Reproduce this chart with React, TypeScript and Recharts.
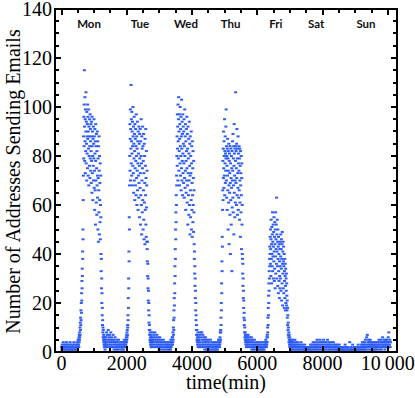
import { Scatter, ScatterChart, XAxis, YAxis } from "recharts"

const QUIET_STEP = 10 // minutes between readings outside working hours
const PEAK_STEP = 5 // minutes between readings around the daily peaks

// night stretches and the weekend, one reading every 10 min
const preMonStart = 0
const preMon = [
  2, 1, 3, 0, 2, 4, 1, 2, 3, 1, 0, 2, 3, 1, 2, 4, 0, 1, 3, 2, 1, 2, 0, 3, 1, 2, 4, 1, 0, 2, 3, 1, 2, 1, 3, 0, 2,
  1, 4, 2, 1, 3, 0, 2, 1, 3, 2, 1, 4, 2, 3, 5,
]
const monNightStart = 1360
const monNight = [
  6, 3, 8, 4, 7, 2, 5, 9, 3, 6, 4, 7, 2, 5, 3, 8, 4, 6, 2, 5, 3, 4, 7, 2, 5, 1, 4, 3, 6, 2, 4, 1, 3, 5, 2, 4, 1,
  3, 2, 5, 0, 3, 2, 4, 1, 3, 2, 0, 4, 2, 1, 3, 2, 4, 1, 3, 5, 2, 4, 3,
]
const tueNightStart = 2780
const tueNight = [
  5, 8, 3, 6, 4, 7, 2, 5, 8, 3, 6, 4, 2, 5, 7, 3, 4, 6, 2, 5, 3, 1, 4, 6, 2, 3, 5, 1, 4, 2, 3, 0, 4, 2, 5, 1, 3,
  2, 4, 0, 2, 3, 1, 4, 2, 3, 0, 2, 4, 1, 3, 2, 1, 4, 2, 3, 1, 5, 2, 4, 3, 6,
]
const wedNightStart = 4200
const wedNight = [
  6, 3, 5, 2, 7, 4, 8, 3, 6, 2, 8, 5, 3, 7, 4, 2, 6, 3, 5, 1, 4, 6, 2, 3, 5, 1, 4, 2, 3, 5, 0, 2, 4, 1, 3, 2, 5,
  1, 3, 0, 2, 4, 1, 3, 2, 0, 4, 1, 2, 3, 1, 4, 2, 0, 3, 1, 2, 4, 1, 3, 2, 5, 3, 4,
]
const thuNightStart = 5700
const thuNight = [
  6, 4, 7, 3, 5, 2, 6, 4, 3, 5, 2, 4, 6, 1, 3, 5, 2, 4, 1, 3, 2, 5, 0, 3, 1, 4, 2, 3, 0, 2, 4, 1, 3, 2, 0, 3, 1,
  4, 2, 1, 3, 0, 2, 4, 1, 2, 3, 1, 0, 2, 4, 1, 3, 2, 4, 3, 5, 4,
]
const weekendStart = 7070
const weekend = [
  4, 2, 5, 3, 1, 4, 2, 3, 5, 1, 3, 2, 4, 1, 3, 0, 2, 4, 1, 2, 3, 1, 2, 0, 3, 1, 2, 4, 0, 2, 1, 3, 0, 2, 1, 0, 2,
  1, 3, 0, 1, 2, 0, 1, 0, 2, 1, 0, 1, 2, 0, 1, 2, 0, 1, 0, 3, 1, 0, 2, 1, 3, 0, 2, 4, 1, 2, 0, 3, 1, 2, 4, 1, 3,
  0, 2, 5, 1, 3, 2, 4, 1, 2, 3, 0, 5, 2, 1, 4, 2, 3, 1, 4, 2, 0, 3, 5, 1, 2, 4, 1, 3, 2, 0, 4, 2, 1, 3, 5, 2, 0,
  3, 1, 4, 2, 1, 3, 0, 2, 4, 1, 2, 3, 0, 2, 1, 4, 2, 0, 3, 1, 2, 0, 3, 1, 0, 2, 1, 3, 0, 2, 1, 0, 1, 3, 0, 1, 2,
  0, 1, 0, 1, 0, 2, 1, 0, 1, 0, 2, 0, 1, 0, 3, 1, 0, 1, 2, 0, 1, 0, 0, 2, 1, 0, 1, 0, 4, 1, 0, 1, 2, 0, 1, 0, 1,
  3, 0, 1, 0, 2, 1, 0, 2, 0, 1, 0, 1, 2, 0, 1, 0, 1, 3, 0, 2, 1, 0, 2, 1, 0, 2, 1, 3, 0, 2, 4, 1, 3, 2, 1, 3, 2,
  4, 1, 5, 2, 3, 1, 6, 2, 7, 3, 4, 2, 5, 1, 3, 4, 2, 5, 3, 1, 4, 2, 3, 0, 2, 4, 1, 3, 2, 4, 1, 3, 0, 2, 3, 1, 4,
  2, 1, 3, 2, 4, 0, 3, 5, 2, 1, 4, 2, 3, 5, 1, 4, 2, 3, 6, 2, 4, 3, 5, 2, 4, 1, 3, 5, 2, 4, 3, 5, 2, 4, 3, 6, 2,
  8, 4, 3, 5, 2, 4,
]

// working-day peaks, one reading every 5 min
const monPeakStart = 520
const monPeak = [
  3, 5, 2, 6, 4, 7, 5, 8, 6, 10, 7, 12, 9, 14, 11, 17, 13, 20, 16, 24, 21, 29, 26, 34, 31, 41, 38, 50, 46, 62, 72,
  88, 79, 96, 84, 101, 115, 92, 78, 104, 86, 95, 73, 99, 82, 90, 106, 77, 94, 85, 70, 98, 88, 81, 93, 75, 101, 87,
  96, 72, 90, 83, 99, 68, 92, 80, 88, 76, 95, 84, 71, 97, 79, 91, 86, 74, 93, 82, 69, 94, 78, 88, 65, 96, 84, 73,
  90, 80, 62, 87, 76, 92, 70, 85, 79, 95, 67, 88, 74, 58, 91, 81, 66, 86, 52, 78, 93, 70, 84, 61, 89, 75, 56, 82,
  68, 90, 72, 63, 86, 50, 79, 71, 45, 84, 66, 57, 88, 74, 48, 80, 62, 69, 53, 77, 46, 60, 72, 55, 40, 33, 38, 26,
  30, 20, 24, 15, 18, 11, 13, 8, 10, 6, 9, 5, 7, 4, 6, 3, 5, 2, 4, 6, 3, 1, 5, 2, 4, 3,
]
const tuePeakStart = 1960
const tuePeak = [
  2, 4, 3, 5, 2, 6, 4, 7, 5, 8, 6, 9, 7, 11, 10, 15, 13, 22, 18, 30, 26, 41, 37, 55, 50, 68, 80, 93, 74, 87, 99,
  70, 91, 83, 109, 77, 95, 86, 72, 98, 81, 90, 68, 94, 84, 76, 100, 88, 73, 92, 65, 85, 79, 96, 70, 89, 82, 62,
  93, 75, 87, 68, 91, 78, 84, 64, 97, 80, 71, 88, 60, 83, 74, 94, 66, 86, 77, 58, 90, 72, 81, 63, 92, 69, 85, 76,
  55, 89, 79, 67, 91, 73, 52, 86, 64, 80, 95, 60, 77, 48, 88, 70, 83, 57, 75, 92, 62, 84, 50, 78, 66, 89, 54, 73,
  46, 85, 61, 80, 69, 44, 87, 58, 76, 64, 91, 52, 71, 47, 82, 59, 68, 45, 74, 42, 37, 45, 31, 36, 26, 30, 21, 25,
  17, 20, 12, 15, 9, 11, 7, 9, 5, 8, 4, 6, 3, 5, 7, 2, 4, 6, 3, 5, 2, 4,
]
const wedPeakStart = 3400
const wedPeak = [
  3, 6, 4, 8, 5, 10, 7, 13, 9, 17, 14, 22, 19, 28, 24, 35, 31, 42, 38, 50, 46, 57, 53, 64, 60, 72, 68, 80, 88, 76,
  97, 83, 92, 70, 101, 86, 79, 95, 104, 74, 90, 82, 97, 68, 87, 93, 77, 100, 84, 72, 91, 80, 96, 66, 88, 75, 103,
  83, 70, 94, 78, 89, 64, 97, 81, 73, 92, 85, 69, 90, 77, 95, 63, 84, 71, 99, 80, 67, 88, 74, 93, 58, 86, 78, 65,
  91, 82, 70, 96, 75, 61, 89, 68, 83, 52, 92, 73, 79, 64, 87, 56, 81, 70, 94, 60, 76, 85, 48, 72, 88, 66, 55, 80,
  73, 62, 90, 50, 77, 84, 58, 69, 47, 86, 64, 75, 53, 82, 60, 71, 49, 78, 57, 66, 44, 38, 41, 32, 35, 27, 30, 22,
  25, 17, 20, 13, 15, 9, 11, 7, 9, 5, 7, 4, 6, 3, 5, 8, 4, 2, 5,
]
const thuPeakStart = 4840
const thuPeak = [
  2, 5, 3, 6, 4, 8, 5, 9, 8, 14, 11, 20, 17, 28, 24, 37, 33, 47, 43, 58, 66, 78, 62, 83, 71, 90, 75, 67, 86, 80,
  72, 95, 64, 82, 77, 88, 69, 81, 74, 92, 79, 99, 70, 84, 63, 80, 76, 58, 83, 72, 87, 66, 79, 50, 82, 74, 61, 85,
  68, 44, 78, 81, 65, 73, 56, 84, 69, 40, 77, 62, 83, 71, 52, 80, 67, 75, 33, 82, 59, 70, 86, 74, 63, 89, 57, 79,
  68, 84, 48, 76, 93, 65, 81, 72, 55, 83, 70, 61, 78, 106, 84, 69, 82, 75, 60, 85, 71, 91, 64, 79, 56, 83, 73, 67,
  88, 58, 77, 81, 63, 74, 84, 66, 79, 54, 83, 70, 61, 76, 47, 82, 68, 73, 57, 80, 64, 42, 71, 77, 52, 60, 40, 38,
  32, 36, 27, 30, 22, 25, 18, 21, 14, 16, 11, 13, 8, 10, 6, 8, 5, 7, 4, 6, 3, 5, 7, 2, 4, 6, 3, 5, 2, 4,
]
const friPeakStart = 6280
const friPeak = [
  2, 4, 3, 6, 4, 7, 6, 10, 8, 14, 11, 18, 15, 23, 20, 28, 25, 33, 30, 38, 35, 43, 40, 47, 36, 50, 42, 31, 46, 54,
  38, 44, 28, 51, 40, 35, 48, 57, 33, 45, 39, 52, 30, 43, 49, 37, 55, 41, 29, 47, 34, 53, 44, 26, 50, 39, 57, 32,
  46, 42, 52, 36, 63, 30, 48, 41, 54, 35, 45, 27, 50, 38, 43, 24, 47, 33, 40, 29, 44, 22, 37, 31, 42, 26, 35, 45,
  30, 39, 48, 25, 42, 34, 46, 21, 38, 44, 28, 49, 36, 19, 41, 32, 45, 26, 37, 43, 24, 35, 40, 18, 33, 29, 38, 22,
  31, 36, 17, 27, 34, 20, 30, 25, 32, 19, 28, 23, 17, 21, 14, 18, 11, 15, 9, 12, 7, 10, 6, 8, 4, 7, 5, 3, 6, 2, 4,
  5, 3, 1, 4, 2, 5, 3, 1, 4, 2, 3, 1,
]

const dayNames = ["Mon", "Tue", "Wed", "Thu", "Fri", "Sat", "Sun"]
const dayLabelTimes = [843, 2405, 3815, 5180, 6570, 7800, 9330]
const DAY_LABEL_Y = 134

const xTicks = [
  0, 500, 1000, 1500, 2000, 2500, 3000, 3500, 4000, 4500, 5000, 5500, 6000, 6500, 7000, 7500, 8000, 8500, 9000,
  9500, 10000,
]
const xLabels = [0, 2000, 4000, 6000, 8000, 10000]
const yTicks = [
  0, 5, 10, 15, 20, 25, 30, 35, 40, 45, 50, 55, 60, 65, 70, 75, 80, 85, 90, 95, 100, 105, 110, 115, 120, 125, 130,
  135, 140,
]
const yLabels = [0, 20, 40, 60, 80, 100, 120, 140]

const X_DOMAIN = [-200, 10280]
const Y_DOMAIN = [0, 140]

const segments: [number, number, number[]][] = [
  [preMonStart, QUIET_STEP, preMon],
  [monPeakStart, PEAK_STEP, monPeak],
  [monNightStart, QUIET_STEP, monNight],
  [tuePeakStart, PEAK_STEP, tuePeak],
  [tueNightStart, QUIET_STEP, tueNight],
  [wedPeakStart, PEAK_STEP, wedPeak],
  [wedNightStart, QUIET_STEP, wedNight],
  [thuPeakStart, PEAK_STEP, thuPeak],
  [thuNightStart, QUIET_STEP, thuNight],
  [friPeakStart, PEAK_STEP, friPeak],
  [weekendStart, QUIET_STEP, weekend],
]

const points = segments.flatMap(([start, step, vals]) => vals.map((v, i) => ({ t: start + i * step, v })))
const dayLabels = dayNames.map((name, i) => ({ t: dayLabelTimes[i], v: DAY_LABEL_Y, name }))

// frame corner and tick positions, placed through the chart's own scales
const frameCorner = [{ t: X_DOMAIN[0], v: Y_DOMAIN[1] }]
const xTickMarks = xTicks.map((t) => ({ t, v: Y_DOMAIN[0], major: xLabels.includes(t) }))
const yTickMarks = yTicks.map((v) => ({ t: X_DOMAIN[0], v, major: yLabels.includes(v) }))

const SERIF = "'Liberation Serif', 'Times New Roman', serif"
const DOT = "#2d5cf6"
const LW = 2 // frame and tick thickness

const W = 415
const H = 398
const M = { top: 9, right: 18, bottom: 0, left: 0 }
const X_AXIS_H = 46
const Y_AXIS_W = 55

const plotTop = M.top
const plotBottom = H - M.bottom - X_AXIS_H
const plotLeft = M.left + Y_AXIS_W
const plotRight = W - M.right

// short horizontal dashes, like the integer rows in the original
const Dot = (p: any) => <rect x={p.cx - 1.5} y={p.cy - 1} width={3} height={2} fill={DOT} />

const DayLabel = (p: any) => (
  <text
    x={p.cx}
    y={p.cy + 4}
    textAnchor="middle"
    fontFamily="Lato, 'Open Sans', sans-serif"
    fontWeight={700}
    fontSize={11.5}
    fill="#111"
  >
    {p.payload.name}
  </text>
)

const FrameShape = (p: any) => {
  const l = Math.round(p.cx) - 1
  const t = Math.round(p.cy) - 1
  const r = plotRight - 1
  const b = plotBottom - 1
  return (
    <g>
      <rect x={l} y={t} width={r - l + LW} height={LW} fill="#000" />
      <rect x={l} y={b} width={r - l + LW} height={LW} fill="#000" />
      <rect x={l} y={t} width={LW} height={b - t + LW} fill="#000" />
      <rect x={r} y={t} width={LW} height={b - t + LW} fill="#000" />
    </g>
  )
}

// inward tick on the bottom edge and the matching one on the top edge
const XTickMark = (p: any) => {
  const x = Math.round(p.cx) - 1
  const len = p.payload.major ? 6 : 4
  const b = Math.round(p.cy)
  return (
    <g>
      <rect x={x} y={b - len} width={LW} height={len} fill="#000" />
      <rect x={x} y={plotTop} width={LW} height={len} fill="#000" />
    </g>
  )
}

// inward tick on the left edge and the matching one on the right edge
const YTickMark = (p: any) => {
  const y = Math.round(p.cy) - 1
  const len = p.payload.major ? 6 : 4
  const l = Math.round(p.cx)
  return (
    <g>
      <rect x={l} y={y} width={len} height={LW} fill="#000" />
      <rect x={plotRight - len} y={y} width={len} height={LW} fill="#000" />
    </g>
  )
}

const XTickLabel = ({ x, payload }: any) =>
  xLabels.includes(payload.value) ? (
    <text x={Number(x)} y={plotBottom + 18} textAnchor="middle" fontFamily={SERIF} fontSize={20} fill="#000">
      {payload.value === 10000 ? "10\u2009000" : payload.value}
    </text>
  ) : (
    <g />
  )

const YTickLabel = ({ y, payload }: any) =>
  yLabels.includes(payload.value) ? (
    <text x={plotLeft - 3} y={Number(y) + 6.5} textAnchor="end" fontFamily={SERIF} fontSize={20} fill="#000">
      {payload.value}
    </text>
  ) : (
    <g />
  )

const XTitle = () => (
  <text x={(plotLeft + plotRight) / 2} y={plotBottom + 37} textAnchor="middle" fontFamily={SERIF} fontSize={20} fill="#000">
    time(min)
  </text>
)

const YTitle = () => {
  const cx = 19.5
  const cy = (plotTop + plotBottom) / 2 + 1
  return (
    <text x={cx} y={cy} transform={`rotate(-90 ${cx} ${cy})`} textAnchor="middle" fontFamily={SERIF} fontSize={20} fill="#000">
      Number of Addresses Sending Emails
    </text>
  )
}

export default function App() {
  return (
    <div style={{ position: "absolute", left: 0, top: 0, width: W, height: H, background: "#fff" }}>
      <ScatterChart width={W} height={H} margin={M}>
        <XAxis
          dataKey="t"
          type="number"
          domain={X_DOMAIN}
          ticks={xTicks}
          interval={0}
          height={X_AXIS_H}
          axisLine={false}
          tickLine={false}
          tick={XTickLabel}
          label={XTitle}
        />
        <YAxis
          dataKey="v"
          type="number"
          domain={Y_DOMAIN}
          ticks={yTicks}
          interval={0}
          width={Y_AXIS_W}
          axisLine={false}
          tickLine={false}
          tick={YTickLabel}
          label={YTitle}
        />
        <Scatter data={points} shape={Dot} isAnimationActive={false} />
        <Scatter data={frameCorner} shape={FrameShape} isAnimationActive={false} />
        <Scatter data={xTickMarks} shape={XTickMark} isAnimationActive={false} />
        <Scatter data={yTickMarks} shape={YTickMark} isAnimationActive={false} />
        <Scatter data={dayLabels} shape={DayLabel} isAnimationActive={false} />
      </ScatterChart>
    </div>
  )
}
